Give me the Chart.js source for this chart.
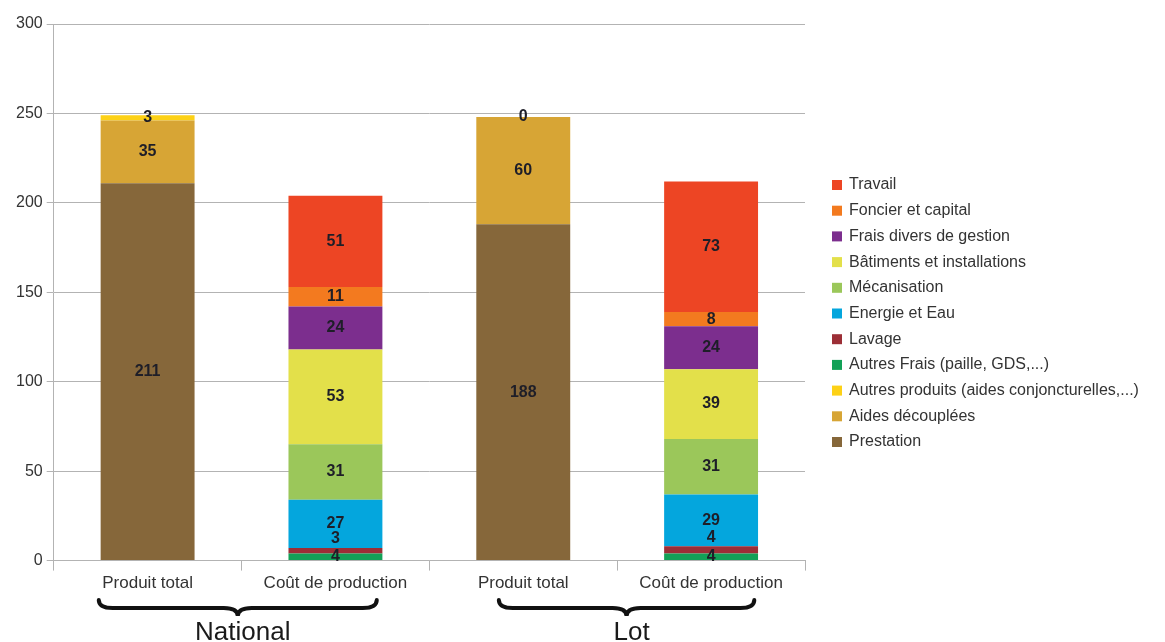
<!DOCTYPE html>
<html>
<head>
<meta charset="utf-8">
<script src="https://cdn.jsdelivr.net/npm/chart.js@4.4.1/dist/chart.umd.min.js"></script>
<style>
  html, body { margin: 0; padding: 0; background: #fff; }
  #wrap { width: 1165px; height: 642px; position: relative; }
</style>
</head>
<body>
<div id="wrap"><canvas id="chart" width="1165" height="642"></canvas></div>
<script>
// categories and group labels
var categories = ['Produit total', 'Coût de production', 'Produit total', 'Coût de production'];
var groupNames = ['National', 'Lot'];
var groupFrom = [0, 2];
var groupTo = [1, 3];

// series values (bottom of stack first)
var prestation      = [211, null, 188, null];
var aidesDecouplees = [35, null, 60, null];
var autresProduits  = [3, null, 0, null];
var autresFrais     = [null, 4, null, 4];
var lavage          = [null, 3, null, 4];
var energieEau      = [null, 27, null, 29];
var mecanisation    = [null, 31, null, 31];
var batiments       = [null, 53, null, 39];
var fraisDivers     = [null, 24, null, 24];
var foncier         = [null, 11, null, 8];
var travail         = [null, 51, null, 73];

var yTicks = [0, 50, 100, 150, 200, 250, 300];

var font = "'Liberation Sans', Arial, sans-serif";

// how far each brace reaches past its outer bars (fraction of a category)
var braceLeft = [0.26, 0.13];
var braceRight = [0.22, 0.23];

function ds(label, data, color) {
    return { label: label, data: data, backgroundColor: color, stack: 's' };
}

var datasets = [
    ds('Prestation', prestation, '#86673a'),
    ds('Aides découplées', aidesDecouplees, '#d7a535'),
    ds('Autres produits (aides conjoncturelles,...)', autresProduits, '#fdd116'),
    ds('Autres Frais (paille, GDS,...)', autresFrais, '#12a157'),
    ds('Lavage', lavage, '#9c2e36'),
    ds('Energie et Eau', energieEau, '#04a6dd'),
    ds('Mécanisation', mecanisation, '#9bc75a'),
    ds('Bâtiments et installations', batiments, '#e3e04a'),
    ds('Frais divers de gestion', fraisDivers, '#7c2e8e'),
    ds('Foncier et capital', foncier, '#f37a1f'),
    ds('Travail', travail, '#ed4524')
];

// value labels in the middle of each segment
var valueLabels = {
    id: 'valueLabels',
    afterDatasetsDraw(chart) {
        var ctx = chart.ctx;
        ctx.save();
        ctx.font = 'bold 16px ' + font;
        ctx.fillStyle = '#1e1e28';
        ctx.textAlign = 'center';
        ctx.textBaseline = 'middle';
        chart.data.datasets.forEach((d, i) => {
            var meta = chart.getDatasetMeta(i);
            meta.data.forEach((bar, j) => {
                var v = d.data[j];
                if (v === null || v === undefined) return;
                var y = (bar.y + bar.base) / 2;
                if (d.label === 'Lavage') y -= 12;
                ctx.fillText(String(v), bar.x, y);
            });
        });
        ctx.restore();
    }
};

// legend on the right, top series first
var sideLegend = {
    id: 'sideLegend',
    afterDraw(chart) {
        var ctx = chart.ctx;
        var area = chart.chartArea;
        var x = area.right + 27;
        var y = area.top + 161;
        var step = 25.7;
        ctx.save();
        ctx.font = '16px ' + font;
        ctx.textAlign = 'left';
        ctx.textBaseline = 'middle';
        var list = chart.data.datasets.slice().reverse();
        list.forEach((d, i) => {
            var cy = y + i * step;
            ctx.fillStyle = d.backgroundColor;
            ctx.fillRect(x, cy - 5, 10, 10);
            ctx.fillStyle = '#333';
            ctx.fillText(d.label, x + 17, cy);
        });
        ctx.restore();
    }
};

// curly braces with group names under the category labels
var groupBraces = {
    id: 'groupBraces',
    afterDraw(chart) {
        var ctx = chart.ctx;
        var x = chart.scales.x;
        var cw = x.getPixelForValue(1) - x.getPixelForValue(0);
        var top = x.bottom + 3;
        var h = 16;
        ctx.save();
        ctx.strokeStyle = '#111';
        ctx.lineWidth = 4;
        ctx.lineCap = 'round';
        groupNames.forEach((name, g) => {
            var xl = x.getPixelForValue(groupFrom[g]) - braceLeft[g] * cw;
            var xr = x.getPixelForValue(groupTo[g]) + braceRight[g] * cw;
            var xm = (xl + xr) / 2;
            var r = 14;
            ctx.beginPath();
            ctx.moveTo(xl, top);
            ctx.quadraticCurveTo(xl, top + h / 2, xl + r, top + h / 2);
            ctx.lineTo(xm - r, top + h / 2);
            ctx.quadraticCurveTo(xm, top + h / 2, xm, top + h);
            ctx.quadraticCurveTo(xm, top + h / 2, xm + r, top + h / 2);
            ctx.lineTo(xr - r, top + h / 2);
            ctx.quadraticCurveTo(xr, top + h / 2, xr, top);
            ctx.stroke();
            ctx.font = '26px ' + font;
            ctx.fillStyle = '#1a1a1a';
            ctx.textAlign = 'center';
            ctx.textBaseline = 'alphabetic';
            ctx.fillText(name, xm + 5, top + h + 24);
        });
        ctx.restore();
    }
};

new Chart(document.getElementById('chart'), {
    type: 'bar',
    data: { labels: categories, datasets: datasets },
    plugins: [valueLabels, sideLegend, groupBraces],
    options: {
        responsive: false,
        animation: false,
        devicePixelRatio: 1,
        barPercentage: 0.5,
        categoryPercentage: 1.0,
        layout: { padding: { left: 12, top: 24, right: 360, bottom: 45 } },
        plugins: {
            tooltip: { enabled: false },
            legend: { display: false }
        },
        scales: {
            x: {
                stacked: true,
                grid: {
                    drawOnChartArea: false,
                    color: '#b3b3b3',
                    tickLength: 10
                },
                border: { color: '#b3b3b3' },
                ticks: {
                    font: { family: font, size: 17 },
                    color: '#333',
                    padding: 3,
                    maxRotation: 0
                }
            },
            y: {
                stacked: true,
                min: 0,
                max: 300,
                afterBuildTicks: (axis) => { axis.ticks = yTicks.map(v => ({ value: v })); },
                grid: { color: '#b3b3b3', tickLength: 7 },
                border: { color: '#b3b3b3' },
                ticks: {
                    font: { family: font, size: 16 },
                    color: '#333',
                    padding: 4
                }
            }
        }
    }
});
</script>
</body>
</html>
